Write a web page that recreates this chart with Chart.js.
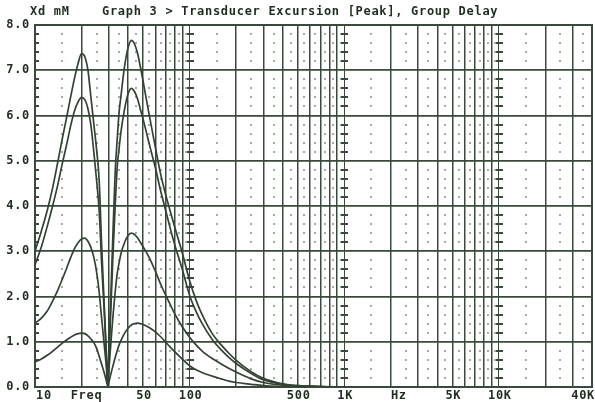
<!DOCTYPE html>
<html>
<head>
<meta charset="utf-8">
<script src="https://cdn.jsdelivr.net/npm/chart.js@4"></script>
<style>
  html, body { margin: 0; padding: 0; background: #fff; }
</style>
</head>
<body>
<canvas id="grafico" width="595" height="402"></canvas>
<script>
// Frecuencias (Hz) comunes a las cuatro curvas
const freqs = [10, 11, 12, 13, 14, 15, 16, 17, 18, 19, 20, 21, 22, 23, 24, 25, 26, 27, 28, 29, 29.5,
  30, 31, 32, 33, 34, 35, 36, 38, 40, 42, 44, 46, 48, 50, 55, 60, 65, 70, 75, 80, 90, 100,
  110, 120, 140, 160, 180, 200, 250, 300, 400, 500, 700, 1000];

// Excursión del transductor (mm pico)
const curva1 = [3.0, 3.45, 3.9, 4.4, 4.95, 5.48, 5.95, 6.41, 6.82, 7.15, 7.37, 7.3, 7.0, 6.4, 5.82, 5.26, 4.57, 3.1, 1.85, 0.7, 0.05,
  0.67, 2.1, 3.5, 4.75, 5.47, 6.08, 6.44, 7.1, 7.5, 7.66, 7.58, 7.38, 7.08, 6.76, 5.98, 5.3, 4.7, 4.25, 3.88, 3.54, 2.94, 2.35,
  1.92, 1.61, 1.18, 0.93, 0.74, 0.59, 0.34, 0.19, 0.07, 0.03, 0.01, 0];
const curva2 = [2.7, 3.1, 3.55, 4.0, 4.45, 4.93, 5.35, 5.77, 6.1, 6.3, 6.4, 6.35, 6.15, 5.78, 5.2, 4.58, 3.9, 2.7, 1.7, 0.6, 0.05,
  0.55, 1.8, 3.0, 4.0, 4.85, 5.28, 5.65, 6.15, 6.48, 6.6, 6.53, 6.37, 6.14, 5.92, 5.35, 4.85, 4.33, 3.9, 3.5, 3.15, 2.58, 2.02,
  1.67, 1.41, 1.05, 0.82, 0.65, 0.52, 0.3, 0.16, 0.06, 0.03, 0.01, 0];
const curva3 = [1.41, 1.52, 1.68, 1.9, 2.13, 2.38, 2.62, 2.86, 3.06, 3.19, 3.27, 3.29, 3.22, 3.08, 2.87, 2.55, 2.1, 1.5, 0.95, 0.4, 0.03,
  0.35, 1.0, 1.6, 2.1, 2.5, 2.75, 2.95, 3.2, 3.35, 3.4, 3.37, 3.3, 3.2, 3.1, 2.85, 2.56, 2.27, 2.03, 1.82, 1.62, 1.32, 1.1,
  0.93, 0.8, 0.63, 0.51, 0.41, 0.33, 0.18, 0.1, 0.04, 0.02, 0.01, 0];
const curva4 = [0.55, 0.62, 0.7, 0.79, 0.88, 0.97, 1.04, 1.1, 1.15, 1.18, 1.19, 1.18, 1.13, 1.06, 0.98, 0.86, 0.68, 0.5, 0.32, 0.12, 0.02,
  0.1, 0.3, 0.48, 0.65, 0.8, 0.93, 1.03, 1.19, 1.3, 1.37, 1.4, 1.41, 1.4, 1.38, 1.31, 1.22, 1.11, 0.99, 0.88, 0.78, 0.61, 0.47,
  0.38, 0.32, 0.24, 0.18, 0.13, 0.1, 0.06, 0.03, 0.01, 0, 0, 0];

// Etiquetas de los ejes
const yTicks = [0, 1, 2, 3, 4, 5, 6, 7, 8];
const xTickValues = [10, 20, 50, 100, 500, 1000, 2000, 5000, 10000, 40000];
const xTickLabels = ['10', 'Freq', '50', '100', '500', '1K', 'Hz', '5K', '10K', '40K'];

const titulo = 'Graph 3 > Transducer Excursion [Peak], Group Delay';
const unidades = 'Xd mM';

const TINTA = '#1f2d1f';
const REJILLA = '#3a4a3a';
const FUENTE = 'bold 12px "DejaVu Sans Mono", monospace';

// Líneas verticales de la rejilla logarítmica (1..9 por década hasta 40K)
const lineasX = [];
for (let d = 10; d <= 10000; d *= 10) {
  for (let k = 1; k <= 9; k++) {
    if (d * k <= 40000) lineasX.push(d * k);
  }
}
// Puntos intermedios (15, 25, ... en cada década)
const puntosX = [];
for (let d = 10; d <= 10000; d *= 10) {
  for (let k = 1.5; k < 10; k += 1) {
    if (d * k < 40000) puntosX.push(d * k);
  }
}

const esDecada = v => [10, 100, 1000, 10000].includes(v);
const esMenor = v => Math.abs(v - Math.round(v)) > 0.05;

const rejillaPlugin = {
  id: 'rejilla',
  beforeDatasetsDraw(chart) {
    const { ctx, chartArea: a, scales: { x, y } } = chart;
    ctx.save();
    // puntos de la rejilla menor
    ctx.fillStyle = '#a3aba3';
    puntosX.forEach(f => {
      const px = x.getPixelForValue(f);
      for (let v = 0.2; v < 8; v += 0.2) {
        if (!esMenor(v)) continue;
        ctx.fillRect(Math.round(px) - 1, Math.round(y.getPixelForValue(v)) - 1, 2, 2);
      }
    });
    // marcas en las líneas de década y en el eje izquierdo
    ctx.fillStyle = REJILLA;
    [100, 1000, 10000].forEach(f => {
      const px = x.getPixelForValue(f);
      for (let v = 0.2; v < 8; v += 0.2) {
        if (!esMenor(v)) continue;
        ctx.fillRect(Math.round(px) - 3, Math.round(y.getPixelForValue(v)) - 1, 7, 2);
      }
    });
    for (let v = 0.2; v < 8; v += 0.2) {
      if (!esMenor(v)) continue;
      ctx.fillRect(a.left, Math.round(y.getPixelForValue(v)) - 1, 4, 2);
    }
    // marco
    ctx.strokeStyle = REJILLA;
    ctx.lineWidth = 2;
    ctx.strokeRect(a.left, a.top, a.right - a.left, a.bottom - a.top);
    ctx.restore();
  },
  afterDraw(chart) {
    const { ctx, scales: { x, y } } = chart;
    ctx.save();
    ctx.fillStyle = TINTA;
    ctx.font = FUENTE;
    ctx.letterSpacing = '0.7px';
    ctx.textBaseline = 'middle';
    ctx.textAlign = 'left';
    ctx.fillText(unidades, 30, 12);
    ctx.fillText(titulo, 102, 12);
    // eje Y
    ctx.textAlign = 'right';
    yTicks.forEach(v => {
      ctx.fillText(v.toFixed(1), 30, y.getPixelForValue(v));
    });
    // eje X
    xTickValues.forEach((f, i) => {
      const px = x.getPixelForValue(f);
      const txt = xTickLabels[i];
      if (i === 0) {
        ctx.textAlign = 'left';
        ctx.fillText(txt, px + 1, 396);
      } else if (i === xTickValues.length - 1) {
        ctx.textAlign = 'right';
        ctx.fillText(txt, px + 3, 396);
      } else {
        ctx.textAlign = 'center';
        const ajuste = txt === 'Freq' ? 5 : txt === 'Hz' ? 8 : 1;
        ctx.fillText(txt, px + ajuste, 396);
      }
    });
    ctx.restore();
  }
};

const serie = vals => freqs.map((f, i) => ({ x: f, y: vals[i] }));
const estiloCurva = {
  borderColor: '#334333',
  borderWidth: 1.7,
  pointRadius: 0,
  fill: false,
  cubicInterpolationMode: 'monotone'
};

new Chart(document.getElementById('grafico').getContext('2d'), {
  type: 'line',
  data: {
    datasets: [
      { label: 'Xd 1', data: serie(curva1), ...estiloCurva },
      { label: 'Xd 2', data: serie(curva2), ...estiloCurva },
      { label: 'Xd 3', data: serie(curva3), ...estiloCurva },
      { label: 'Xd 4', data: serie(curva4), ...estiloCurva }
    ]
  },
  options: {
    responsive: false,
    animation: false,
    devicePixelRatio: 1,
    layout: { padding: { left: 35, right: 3, top: 25, bottom: 15 } },
    plugins: { legend: { display: false }, tooltip: { enabled: false } },
    scales: {
      x: {
        type: 'logarithmic',
        min: 10,
        max: 40000,
        afterBuildTicks: scale => { scale.ticks = lineasX.map(v => ({ value: v })); },
        ticks: { display: false },
        border: { display: false },
        grid: {
          drawTicks: false,
          color: REJILLA,
          lineWidth: c => (c.tick && esDecada(c.tick.value) ? 1 : 1.5)
        }
      },
      y: {
        min: 0,
        max: 8,
        ticks: { display: false, stepSize: 1 },
        border: { display: false },
        grid: { drawTicks: false, color: REJILLA, lineWidth: 1.8 }
      }
    }
  },
  plugins: [rejillaPlugin]
});
</script>
</body>
</html>
